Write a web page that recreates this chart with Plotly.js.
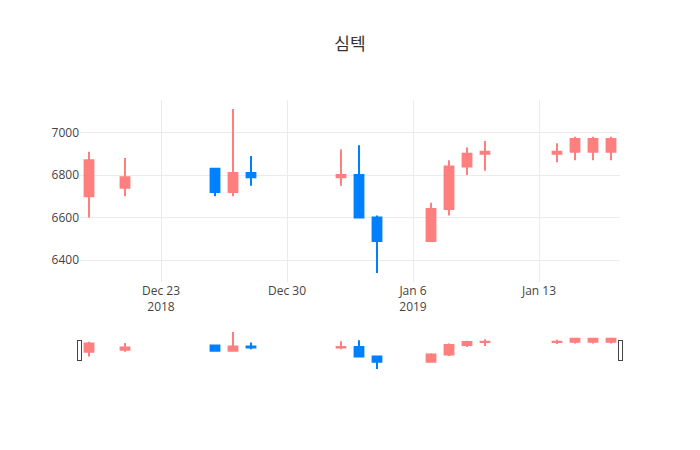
<!DOCTYPE html>
<html>
<head>
<meta charset="utf-8">
<script src="https://cdn.plot.ly/plotly-3.0.1.min.js"></script>
<style>html,body{margin:0;padding:0;background:#fff;}</style>
</head>
<body>
<div id="chart" style="width:700px;height:450px;"></div>
<script>
const dates = ["2018-12-19","2018-12-21","2018-12-26","2018-12-27","2018-12-28",
  "2019-01-02","2019-01-03","2019-01-04","2019-01-07","2019-01-08","2019-01-09","2019-01-10",
  "2019-01-14","2019-01-15","2019-01-16","2019-01-17"];
const openVals  = [6700, 6740, 6830, 6720, 6810, 6790, 6800, 6600, 6490, 6640, 6840, 6900, 6900, 6910, 6910, 6910];
const highVals  = [6910, 6880, 6830, 7110, 6890, 6920, 6940, 6610, 6670, 6870, 6930, 6960, 6950, 6980, 6980, 6980];
const lowVals   = [6600, 6700, 6700, 6700, 6750, 6750, 6600, 6340, 6490, 6610, 6800, 6820, 6860, 6870, 6870, 6870];
const closeVals = [6870, 6790, 6720, 6810, 6790, 6800, 6600, 6490, 6640, 6840, 6900, 6910, 6910, 6970, 6970, 6970];

const trace = {
  type: 'candlestick',
  x: dates, open: openVals, high: highVals, low: lowVals, close: closeVals,
  increasing: {line: {color: '#ff7f7f'}, fillcolor: '#ff7f7f'},
  decreasing: {line: {color: '#007fff'}, fillcolor: '#007fff'}
};
const layout = {
  width: 700, height: 450,
  title: {text: '심텍', font: {family: '"Noto Sans CJK KR", "Open Sans", sans-serif', size: 17, color: '#333'}},
  font: {family: '"Open Sans", verdana, arial, sans-serif', color: '#444'},
  paper_bgcolor: '#fff', plot_bgcolor: '#fff',
  showlegend: false,
  xaxis: {gridcolor: '#ebebeb', rangeslider: {visible: true}, zeroline: false},
  yaxis: {gridcolor: '#ebebeb', zeroline: false}
};
Plotly.newPlot('chart', [trace], layout, {displayModeBar: false});
</script>
</body>
</html>
